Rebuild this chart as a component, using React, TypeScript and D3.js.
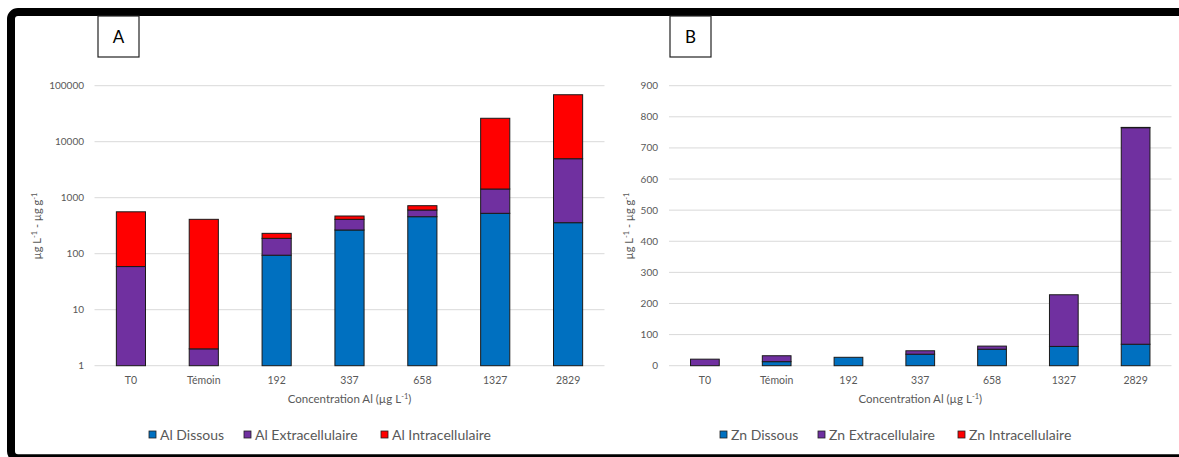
import React from "react";
import * as d3 from "d3";

const categories = ["T0", "Témoin", "192", "337", "658", "1327", "2829"];

const alDissous = [0, 0, 94, 265, 458, 526, 358];
const alExtra = [59, 2, 94, 146, 145, 904, 4610];
const alIntra = [501, 409, 43, 60, 117, 24770, 64000];

const znDissous = [0, 13, 27, 37, 53, 62, 69];
const znExtra = [21, 19, 0, 11, 10, 166, 696];
const znIntra = [0, 0, 0, 0, 0, 0, 1];

const logTicks = [1, 10, 100, 1000, 10000, 100000];
const linTicks = [0, 100, 200, 300, 400, 500, 600, 700, 800, 900];

const alSeries = ["Al Dissous", "Al Extracellulaire", "Al Intracellulaire"];
const znSeries = ["Zn Dissous", "Zn Extracellulaire", "Zn Intracellulaire"];
const colors = ["#0070C0", "#7030A0", "#FF0000"];

const W = 1179;
const H = 457;
const FONT = "Lato, 'Open Sans', sans-serif";
const GREY = "#595959";

type PanelProps = {
  label: string;
  labelBox: [number, number];
  xRange: [number, number];
  yScale: any;
  ticks: number[];
  tickX: number;
  titleX: number;
  series: number[][];
  names: string[];
  legendX: number[];
  minVal: number;
};

function Panel(p: PanelProps) {
  const x = d3
    .scaleBand<string>()
    .domain(categories)
    .range(p.xRange)
    .paddingInner(0.6)
    .paddingOuter(0.3);
  const y = p.yScale;
  const stackData = categories.map((c, i) => {
    const row: any = { cat: c };
    p.series.forEach((s, k) => (row["s" + k] = s[i]));
    return row;
  });
  const stack = d3.stack<any>().keys(["s0", "s1", "s2"])(stackData);
  const xMid = (p.xRange[0] + p.xRange[1]) / 2;
  return (
    <g>
      <rect
        x={p.labelBox[0]}
        y={p.labelBox[1]}
        width={41}
        height={41}
        fill="#fff"
        stroke="#222"
        strokeWidth={1.2}
      />
      <text
        x={p.labelBox[0] + 20.5}
        y={p.labelBox[1] + 27}
        textAnchor="middle"
        fontSize={17}
        fontFamily={FONT}
        fill="#000"
      >
        {p.label}
      </text>
      {p.ticks.map((t) => (
        <g key={t}>
          <line
            x1={p.xRange[0]}
            x2={p.xRange[1]}
            y1={y(t)}
            y2={y(t)}
            stroke="#d9d9d9"
            strokeWidth={1}
          />
          <text
            x={p.tickX}
            y={y(t) + 3.5}
            textAnchor="end"
            fontSize={10}
            fontFamily={FONT}
            fill={GREY}
          >
            {t}
          </text>
        </g>
      ))}
      {stack.map((layer, k) =>
        layer.map((d, i) => {
          const v0 = Math.max(d[0], p.minVal);
          const v1 = d[1];
          if (v1 - d[0] <= 0) return null;
          const yt = y(v1);
          const yb = y(v0);
          return (
            <rect
              key={k + "-" + i}
              x={x(categories[i])}
              y={yt}
              width={x.bandwidth()}
              height={Math.max(yb - yt, 0)}
              fill={colors[k]}
              stroke="#1a1a1a"
              strokeWidth={1}
            />
          );
        })
      )}
      {categories.map((c) => (
        <text
          key={c}
          x={(x(c) as number) + x.bandwidth() / 2}
          y={384}
          textAnchor="middle"
          fontSize={10.5}
          fontFamily={FONT}
          fill={GREY}
        >
          {c}
        </text>
      ))}
      <text
        x={xMid}
        y={403}
        textAnchor="middle"
        fontSize={11.5}
        fontFamily={FONT}
        fill={GREY}
      >
        Concentration Al (µg L
        <tspan dy={-4} fontSize={7.5}>
          -1
        </tspan>
        <tspan dy={4}>)</tspan>
      </text>
      <text
        transform={`translate(${p.titleX},226) rotate(-90)`}
        textAnchor="middle"
        fontSize={11}
        fontFamily={FONT}
        fill={GREY}
      >
        µg L
        <tspan dy={-4} fontSize={7.5}>
          -1
        </tspan>
        <tspan dy={4}> - µg g</tspan>
        <tspan dy={-4} fontSize={7.5}>
          -1
        </tspan>
      </text>
      {p.names.map((n, k) => (
        <g key={n}>
          <rect
            x={p.legendX[k]}
            y={431}
            width={7}
            height={7}
            fill={colors[k]}
            stroke="#222"
            strokeWidth={0.8}
          />
          <text
            x={p.legendX[k] + 11}
            y={440}
            fontSize={14}
            fontFamily={FONT}
            fill={GREY}
          >
            {n}
          </text>
        </g>
      ))}
    </g>
  );
}

export default function App() {
  const yLog = d3.scaleLog().domain([1, 100000]).range([365.7, 85.7]);
  const yLin = d3.scaleLinear().domain([0, 900]).range([365.7, 85.7]);
  return (
    <svg
      width={W}
      height={H}
      style={{ position: "absolute", left: 0, top: 0, display: "block" }}
    >
      <rect x={0} y={0} width={W} height={H} fill="#fff" />
      <rect
        x={11}
        y={12}
        width={W + 20}
        height={446.3}
        rx={7}
        fill="none"
        stroke="#000"
        strokeWidth={8}
      />
      <Panel
        label="A"
        labelBox={[98, 16]}
        xRange={[94.5, 604.5]}
        yScale={yLog}
        ticks={logTicks}
        tickX={84}
        titleX={41}
        series={[alDissous, alExtra, alIntra]}
        names={alSeries}
        legendX={[149, 244, 381]}
        minVal={1}
      />
      <Panel
        label="B"
        labelBox={[670, 16]}
        xRange={[669, 1171.5]}
        yScale={yLin}
        ticks={linTicks}
        tickX={658}
        titleX={633}
        series={[znDissous, znExtra, znIntra]}
        names={znSeries}
        legendX={[720, 818, 958]}
        minVal={0}
      />
    </svg>
  );
}
